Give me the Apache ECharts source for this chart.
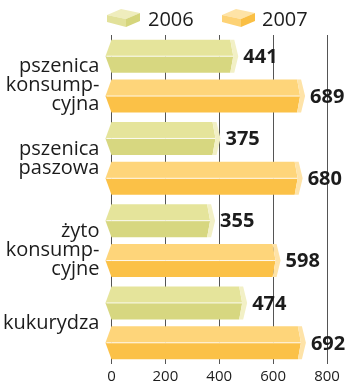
<!DOCTYPE html>
<html>
<head>
<meta charset="utf-8">
<script src="https://cdn.jsdelivr.net/npm/echarts@6/dist/echarts.min.js"></script>
<style>
  html, body { margin: 0; padding: 0; background: #fff; }
  #chart { width: 350px; height: 384px; }
</style>
</head>
<body>
<div id="chart"></div>
<script>
// Grain prices by crop, 2006 vs 2007
const categories = ['pszenica\nkonsump-\ncyjna', 'pszenica\npaszowa', 'żyto\nkonsump-\ncyjne', 'kukurydza'];
const years = ['2006', '2007'];
const values2006 = [441, 375, 355, 474];
const values2007 = [689, 680, 598, 692];
const xTicks = [0, 200, 400, 600, 800];

const FONT = '"Open Sans", "DejaVu Sans", sans-serif';
const INK = '#1c1c1c';

const palette = {
  '2006': { top: '#e5e49b', bottom: '#d7d780', cap: '#f2f0c6', cubeTop: '#efedbd', cubeLeft: '#e2e19a', cubeRight: '#d5d57c' },
  '2007': { top: '#fed57a', bottom: '#fbc147', cap: '#fee3a8', cubeTop: '#fee3a6', cubeLeft: '#fdd275', cubeRight: '#fabf44' }
};

// Prism-shaped bar: pointed left end, two shaded halves, light end cap
function prismRenderer(offset, col) {
  return function (params, api) {
    const cat = api.value(0);
    const v = api.value(1);
    const band = api.size([0, 1])[1];
    const end = api.coord([v, cat]);
    const start = api.coord([0, cat]);
    const h = band * 0.4;
    const yc = end[1] + offset * band;
    const yt = yc - h / 2, yb = yc + h / 2;
    const x0 = start[0], x1 = end[0];
    const tip = 6, capW = 4, capTip = 8, notch = 3;
    return {
      type: 'group',
      children: [
        { type: 'polygon', shape: { points: [[x0 - tip, yc], [x0, yt], [x1, yt], [x1 + notch, yc]] }, style: { fill: col.top } },
        { type: 'polygon', shape: { points: [[x0 - tip, yc], [x1 + notch, yc], [x1, yb], [x0, yb]] }, style: { fill: col.bottom } },
        { type: 'line', shape: { x1: x0 - tip + 1, y1: yc, x2: x1 + notch, y2: yc }, style: { stroke: 'rgba(255,255,255,0.85)', lineWidth: 1 } },
        { type: 'polygon', shape: { points: [[x1, yt], [x1 + capW, yt], [x1 + capTip, yc], [x1 + capW, yb], [x1, yb], [x1 + notch, yc]] }, style: { fill: col.cap } },
        { type: 'text', x: x1 + capTip + 5, y: yc + 1, style: { text: String(v), font: 'bold 20px ' + FONT, fill: INK, align: 'left', verticalAlign: 'middle' } }
      ]
    };
  };
}

// Legend cube icon
function cube(ox, oy, col) {
  const p = (pts) => pts.map(([x, y]) => [ox + x, oy + y]);
  return [
    { type: 'polygon', shape: { points: p([[0, 7], [14, 1], [33, 5], [19, 11]]) }, style: { fill: col.cubeTop } },
    { type: 'polygon', shape: { points: p([[0, 7], [19, 11], [19, 19], [0, 14]]) }, style: { fill: col.cubeLeft } },
    { type: 'polygon', shape: { points: p([[19, 11], [33, 5], [33, 13], [19, 19]]) }, style: { fill: col.cubeRight } }
  ];
}

const legendItems = [
  ...cube(107, 8, palette['2006']),
  { type: 'text', x: 148, y: 20, style: { text: years[0], font: '20px ' + FONT, fill: INK, verticalAlign: 'middle' } },
  ...cube(222, 8, palette['2007']),
  { type: 'text', x: 262, y: 20, style: { text: years[1], font: '20px ' + FONT, fill: INK, verticalAlign: 'middle' } }
];

const chart = echarts.init(document.getElementById('chart'), null, { renderer: 'canvas' });
chart.setOption({
  animation: false,
  backgroundColor: '#fff',
  grid: { left: 109, right: 23, top: 35, bottom: 19, containLabel: false },
  xAxis: {
    type: 'value', min: xTicks[0], max: xTicks[xTicks.length - 1], interval: 200,
    axisLine: { show: false }, axisTick: { show: false },
    splitLine: { show: true, lineStyle: { color: '#555', width: 1 } },
    axisLabel: { fontSize: 15, fontFamily: FONT, color: INK, margin: 5 }
  },
  yAxis: {
    type: 'category', inverse: true,
    data: categories,
    axisLine: { show: false }, axisTick: { show: false }, splitLine: { show: false },
    axisLabel: {
      fontSize: 20, lineHeight: 19, fontFamily: FONT, color: INK, margin: 12, align: 'right',
      // three-line names sit a little lower in their band
      formatter: (name) => (name.split('\n').length === 3 ? '\n' + name : name)
    }
  },
  graphic: legendItems,
  series: [
    {
      name: years[0], type: 'custom', renderItem: prismRenderer(-0.2424, palette['2006']),
      encode: { x: 1, y: 0 }, data: values2006.map((v, i) => [i, v]), z: 3
    },
    {
      name: years[1], type: 'custom', renderItem: prismRenderer(0.2424, palette['2007']),
      encode: { x: 1, y: 0 }, data: values2007.map((v, i) => [i, v]), z: 3
    }
  ]
});
</script>
</body>
</html>
